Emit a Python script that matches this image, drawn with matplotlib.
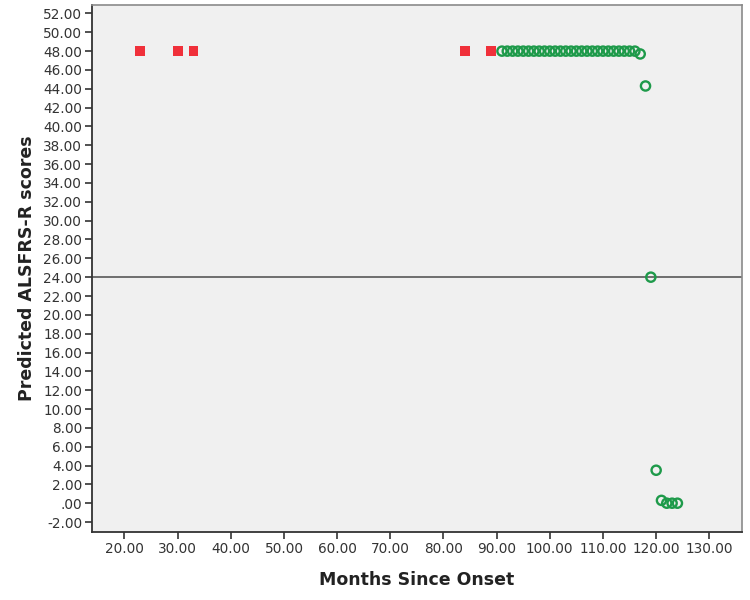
import matplotlib
matplotlib.use("Agg")
import matplotlib.pyplot as plt
from matplotlib.ticker import FuncFormatter

# Data
red_months = [23, 30, 33, 84, 89]
red_scores = [48, 48, 48, 48, 48]

green_months = list(range(91, 117)) + [117, 118, 119, 120, 121, 122, 123, 124]
green_scores = [48] * 26 + [47.7, 44.3, 24.0, 3.5, 0.3, 0.0, 0.0, 0.0]

ref_line = 24
x_ticks = [20, 30, 40, 50, 60, 70, 80, 90, 100, 110, 120, 130]
y_ticks = list(range(-2, 53, 2))

plt.rcParams['font.family'] = ['DejaVu Sans']

fig = plt.figure(figsize=(7.5, 6), dpi=100)
ax = fig.add_axes([0.1227, 0.1133, 0.8663, 0.8784])
ax.set_facecolor('#f0f0f0')

ax.axhline(ref_line, color='#6e6e6e', lw=1.4, zorder=1)

ax.scatter(red_months, red_scores, marker='s', s=50, color='#f0303a',
           edgecolors='none', zorder=3)
ax.scatter(green_months, green_scores, marker='o', s=44, facecolors='none',
           edgecolors='#1e9a4a', linewidths=1.7, zorder=4)

ax.set_xlim(13.9, 136.1)
ax.set_ylim(-3.06, 52.9)
ax.set_xticks(x_ticks)
ax.set_yticks(y_ticks)

def fmt(v, pos):
    s = "%.2f" % v
    if s.startswith("0."):
        s = s[1:]
    return s

ax.xaxis.set_major_formatter(FuncFormatter(fmt))
ax.yaxis.set_major_formatter(FuncFormatter(fmt))
ax.tick_params(axis='both', direction='out', length=5, width=1.2,
               color='#333333', labelsize=9.8, labelcolor='#333333', pad=2)

for side in ['left', 'bottom']:
    ax.spines[side].set_color('#333333')
    ax.spines[side].set_linewidth(1.3)
for side in ['top', 'right']:
    ax.spines[side].set_color('#8a8a8a')
    ax.spines[side].set_linewidth(1.2)

ax.set_xlabel('Months Since Onset', fontsize=12.5, fontweight='bold',
              color='#222222', labelpad=11)
ax.set_ylabel('Predicted ALSFRS-R scores', fontsize=12.5, fontweight='bold',
              color='#222222', labelpad=5)

fig.savefig('out.png', dpi=100, facecolor='white')
